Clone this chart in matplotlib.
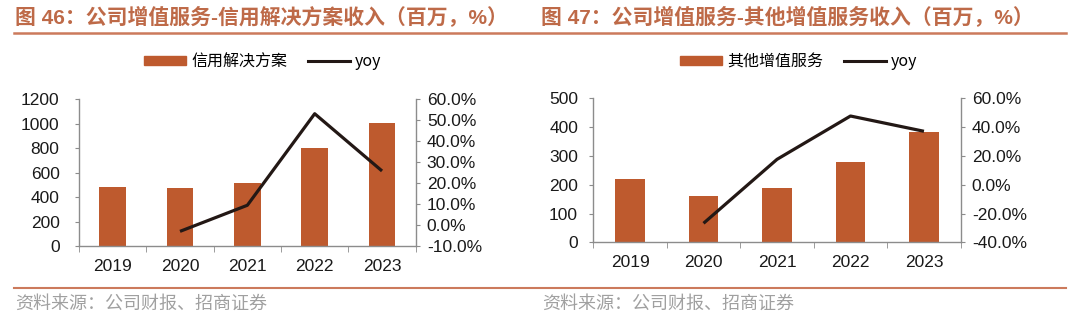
import matplotlib
matplotlib.use("Agg")
import matplotlib.pyplot as plt
import matplotlib.lines as mlines
import matplotlib.patches as mpatches
import numpy as np

plt.rcParams["font.family"] = ["Liberation Sans", "Noto Sans CJK SC", "DejaVu Sans"]

years = ["2019", "2020", "2021", "2022", "2023"]

credit_rev = [485, 472, 516, 800, 1003]
credit_yoy = [np.nan, -2.9, 9.5, 53.0, 25.8]

other_rev = [219, 160, 187.5, 280, 383]
other_yoy = [np.nan, -26.8, 17.6, 47.7, 37.1]

title_left = "图 46：公司增值服务-信用解决方案收入（百万，%）"
title_right = "图 47：公司增值服务-其他增值服务收入（百万，%）"
legend_left = "信用解决方案"
legend_right = "其他增值服务"
source_text = "资料来源：公司财报、招商证券"

BAR = "#BE5A2E"
LINE = "#231815"
TITLE = "#BE6A48"
RULE = "#CC7A5C"
AXIS = "#8C8C8C"
TEXT = "#1A1A1A"
SOURCE = "#A0A0A0"

W, H = 1080, 323
fig = plt.figure(figsize=(W / 100, H / 100), dpi=100)
fig.patch.set_facecolor("white")


def px_axes(left, top, right, bottom):
    return fig.add_axes([left / W, 1 - bottom / H, (right - left) / W, (bottom - top) / H])


def draw_panel(axis, revenue, yoy, y_max, y_step, r_min, r_max, r_step, left_pad, right_pad):
    x_positions = np.arange(len(years))
    axis.bar(x_positions, revenue, width=0.4, color=BAR, zorder=2)
    axis.set_xlim(-0.5, len(years) - 0.5)
    axis.set_ylim(0, y_max)
    axis.set_yticks(np.arange(0, y_max + 1, y_step))

    axis.set_xticks(x_positions)
    axis.set_xticklabels(years)
    axis.set_xticks(np.arange(-0.5, len(years), 1.0), minor=True)
    axis.tick_params(axis="x", which="major", length=0, pad=9, labelsize=12.5, colors=TEXT)
    axis.tick_params(axis="x", which="minor", length=4, color=AXIS, direction="out")
    axis.tick_params(axis="y", length=3, color=AXIS, labelsize=12.5, labelcolor=TEXT, pad=left_pad)

    for side in ["top", "right"]:
        axis.spines[side].set_visible(False)
    for side in ["left", "bottom"]:
        axis.spines[side].set_color(AXIS)
        axis.spines[side].set_linewidth(1.0)

    twin = axis.twinx()
    twin.plot(x_positions, yoy, color=LINE, linewidth=2.3, zorder=3, solid_capstyle="butt")
    twin.set_ylim(r_min, r_max)
    right_ticks = np.arange(r_min, r_max + 0.1, r_step)
    twin.set_yticks(right_ticks)
    twin.set_yticklabels([f"{v:.1f}%" for v in right_ticks])
    twin.tick_params(axis="y", length=3, color=AXIS, labelsize=12.5, labelcolor=TEXT, pad=right_pad)
    for side in ["top", "left", "bottom"]:
        twin.spines[side].set_visible(False)
    twin.spines["right"].set_color(AXIS)
    twin.spines["right"].set_linewidth(1.0)
    return twin


ax_left = px_axes(79, 99, 415.7, 246.3)
draw_panel(ax_left, credit_rev, credit_yoy, 1200, 200, -10, 60, 10, 11, 5)

ax_right = px_axes(593.3, 98.3, 960.7, 242.3)
draw_panel(ax_right, other_rev, other_yoy, 500, 100, -40, 60, 20, 8, 5)


def add_legend(label, center_x):
    handles = [
        mpatches.Patch(color=BAR, label=label),
        mlines.Line2D([], [], color=LINE, linewidth=2.2, label="yoy"),
    ]
    fig.legend(
        handles=handles,
        loc="center",
        bbox_to_anchor=(center_x / W, 1 - 61.7 / H),
        ncol=2,
        frameon=False,
        handlelength=2.6,
        handleheight=0.5,
        handletextpad=0.35,
        columnspacing=1.3,
        prop={"family": ["Noto Sans CJK SC", "Liberation Sans"], "size": 11.5},
    )


add_legend(legend_left, 263)
add_legend(legend_right, 799)

title_font = ["Liberation Sans", "Noto Sans CJK SC"]
fig.text(15 / W, 1 - 17 / H, title_left, color=TITLE, fontsize=15, fontweight="bold",
         family=title_font, ha="left", va="center")
fig.text(541 / W, 1 - 17 / H, title_right, color=TITLE, fontsize=15, fontweight="bold",
         family=title_font, ha="left", va="center")

fig.add_artist(mlines.Line2D([14 / W, 1066 / W], [1 - 33 / H, 1 - 33 / H], color=RULE, linewidth=1.8))
fig.add_artist(mlines.Line2D([14 / W, 1066 / W], [1 - 287.7 / H, 1 - 287.7 / H], color=RULE, linewidth=1.5))

source_font = ["Noto Sans CJK SC", "DejaVu Sans"]
fig.text(15 / W, 1 - 304 / H, source_text, color=SOURCE, fontsize=13, fontweight="light",
         family=source_font, ha="left", va="center")
fig.text(542 / W, 1 - 304 / H, source_text, color=SOURCE, fontsize=13, fontweight="light",
         family=source_font, ha="left", va="center")

fig.savefig("out.png", dpi=100, facecolor="white")
